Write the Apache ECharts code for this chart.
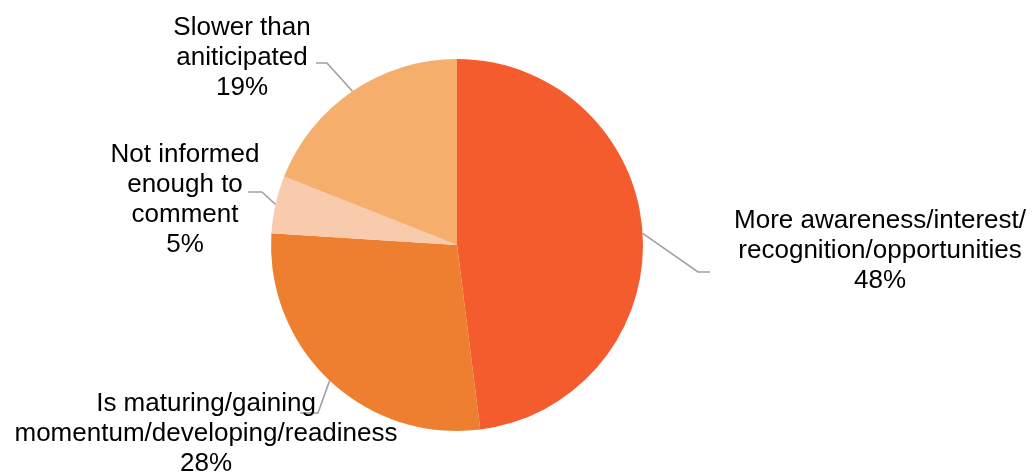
<!DOCTYPE html>
<html>
<head>
<meta charset="utf-8">
<title>Perceived progress</title>
<script src="https://cdn.jsdelivr.net/npm/echarts@6/dist/echarts.min.js"></script>
<style>
  html, body { margin: 0; padding: 0; background: #ffffff; }
  #chart { width: 1036px; height: 475px; }
</style>
</head>
<body>
<div id="chart"></div>
<script>
// Survey responses, clockwise from 12 o'clock
const categories = [
  'More awareness/interest/\nrecognition/opportunities',
  'Is maturing/gaining\nmomentum/developing/readiness',
  'Not informed\nenough to\ncomment',
  'Slower than\naniticipated'
];
const shares = [48, 28, 5, 19];
const sliceColors = ['#F45B2D', '#EE7F31', '#F8CBAD', '#F5AE6B'];

// Where each label block sits (centre of the text) and where its leader line bends/ends
const labelSpots = [
  { cx: 880, cy: 251, bend: [698, 272], end: [710, 272] },
  { cx: 206, cy: 434, bend: [318, 413], end: [300, 413] },
  { cx: 185, cy: 200, bend: [262, 192], end: [248, 192] },
  { cx: 242, cy: 58,  bend: [327, 63],  end: [316, 63] }
];

const chart = echarts.init(document.getElementById('chart'), null, { renderer: 'canvas' });

const data = categories.map((name, i) => ({
  name: name,
  value: shares[i],
  itemStyle: { color: sliceColors[i] }
}));

chart.setOption({
  animation: false,
  backgroundColor: '#ffffff',
  series: [{
    type: 'pie',
    center: [457, 245],
    radius: [0, 186],
    startAngle: 90,
    clockwise: true,
    avoidLabelOverlap: false,
    data: data,
    itemStyle: { borderWidth: 0 },
    label: {
      show: true,
      formatter: '{b}\n{c}%',
      fontFamily: '"Liberation Sans", Arial, sans-serif',
      fontSize: 26,
      lineHeight: 30,
      color: '#000000'
    },
    labelLine: {
      show: true,
      length: 20,
      length2: 12,
      smooth: false,
      lineStyle: { color: '#A0A0A0', width: 1.6 }
    },
    labelLayout: function (params) {
      const spot = labelSpots[params.dataIndex];
      const pts = params.labelLinePoints;
      const start = pts && pts[0] ? pts[0] : spot.bend;
      return {
        x: spot.cx,
        y: spot.cy,
        align: 'center',
        verticalAlign: 'middle',
        labelLinePoints: [start, spot.bend, spot.end]
      };
    },
    emphasis: { disabled: true }
  }]
});
</script>
</body>
</html>
